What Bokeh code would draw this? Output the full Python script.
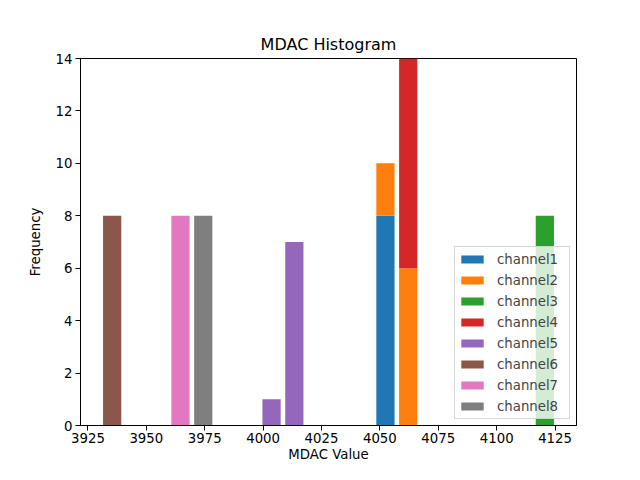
import numpy as np
from bokeh.plotting import figure
from bokeh.models import FixedTicker, Range1d, Legend
from bokeh.embed import file_html
from bokeh.resources import INLINE

# ---- data ----
channels = ["channel1", "channel2", "channel3", "channel4",
            "channel5", "channel6", "channel7", "channel8"]
colors = ["#1f77b4", "#ff7f0e", "#2ca02c", "#d62728",
          "#9467bd", "#8c564b", "#e377c2", "#7f7f7f"]
hist_min = 3930.5
hist_max = 4125.5
n_bins = 20
# counts per bin index for each channel
ch1_counts = {12: 8}
ch2_counts = {12: 2, 13: 6}
ch3_counts = {19: 8}
ch4_counts = {13: 8}
ch5_counts = {7: 1, 8: 7}
ch6_counts = {0: 8}
ch7_counts = {3: 8}
ch8_counts = {4: 8}
all_counts = [ch1_counts, ch2_counts, ch3_counts, ch4_counts,
              ch5_counts, ch6_counts, ch7_counts, ch8_counts]
x_ticks = [3925, 3950, 3975, 4000, 4025, 4050, 4075, 4100, 4125]
y_ticks = [0, 2, 4, 6, 8, 10, 12, 14]

edges = np.linspace(hist_min, hist_max, n_bins + 1)
bw = edges[1] - edges[0]
centers = (edges[:-1] + edges[1:]) / 2
bar_w = 0.8 * bw
lo = edges[0] + 0.1 * bw
hi = edges[-1] - 0.1 * bw
pad = 0.05 * (hi - lo)

FONT = "DejaVu Sans"

p = figure(width=624, height=464, output_backend="svg", toolbar_location=None,
           x_range=Range1d(lo - pad, hi + pad), y_range=Range1d(0, 14),
           title="MDAC Histogram",
           min_border_left=80, min_border_right=48, min_border_top=58,
           min_border_bottom=38)

bottom = np.zeros(n_bins)
legend_items = []
for name, col, cnt in zip(channels, colors, all_counts):
    h = np.zeros(n_bins)
    for k, v in cnt.items():
        h[k] = v
    r = p.vbar(x=centers, width=bar_w, bottom=bottom, top=bottom + h,
               fill_color=col, line_color=None)
    legend_items.append((name, [r]))
    bottom = bottom + h

legend = Legend(items=legend_items, location="bottom_right")
legend.label_text_font = FONT
legend.label_text_font_size = "13.3px"
legend.glyph_width = 28
legend.glyph_height = 10
legend.label_height = 18
legend.label_width = 69
legend.spacing = 3
legend.label_standoff = 11
legend.padding = 3
legend.margin = 6
legend.background_fill_alpha = 0.8
legend.border_line_color = "#cccccc"
legend.border_line_alpha = 0.8
p.add_layout(legend, "center")

p.title.align = "center"
p.title.text_font = FONT
p.title.text_font_size = "16px"
p.title.text_font_style = "normal"
p.title.text_color = "black"

p.xgrid.visible = False
p.ygrid.visible = False
p.outline_line_color = "black"
p.outline_line_alpha = 1
p.outline_line_width = 1

for ax in (p.xaxis[0], p.yaxis[0]):
    ax.major_label_text_font = FONT
    ax.major_label_text_font_size = "13.3px"
    ax.major_label_text_color = "black"
    ax.axis_label_text_font = FONT
    ax.axis_label_text_font_size = "13.3px"
    ax.axis_label_text_font_style = "normal"
    ax.axis_label_text_color = "black"
    ax.minor_tick_line_color = None
    ax.major_tick_out = 5
    ax.major_tick_in = 0
    ax.major_label_standoff = 3
    ax.axis_line_color = "black"
    ax.major_tick_line_color = "black"

p.xaxis.ticker = FixedTicker(ticks=x_ticks)
p.yaxis.ticker = FixedTicker(ticks=y_ticks)
p.xaxis.axis_label = "MDAC Value"
p.yaxis.axis_label = "Frequency"
p.xaxis.major_label_standoff = 2
p.xaxis.axis_label_standoff = 1
p.yaxis.axis_label_standoff = 10

open("out.html", "w").write(file_html(p, INLINE))
